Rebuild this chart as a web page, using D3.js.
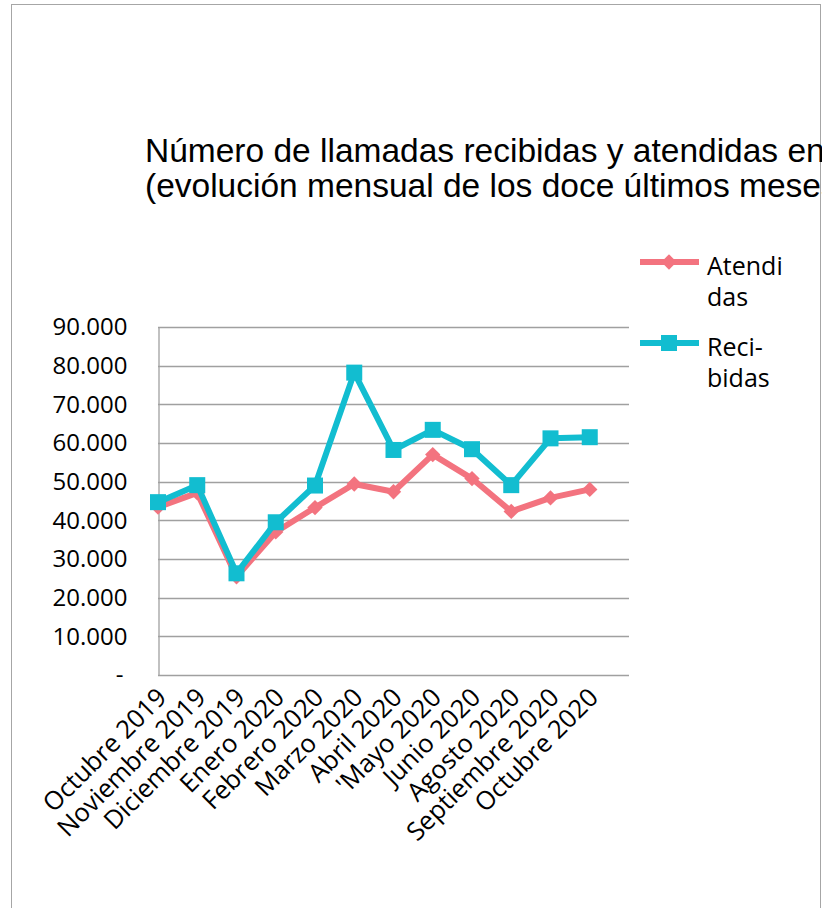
<!DOCTYPE html>
<html>
<head>
<meta charset="utf-8">
<script src="https://cdn.jsdelivr.net/npm/d3@7"></script>
<style>
  body { margin: 0; background: #fff; }
  svg { display: block; }
</style>
</head>
<body>
<div id="chart"></div>
<script>
// data
var months = ["Octubre 2019", "Noviembre 2019", "Diciembre 2019", "Enero 2020", "Febrero 2020",
  "Marzo 2020", "Abril 2020", "'Mayo 2020", "Junio 2020", "Agosto 2020", "Septiembre 2020", "Octubre 2020"];
var atendidas = [43400, 47100, 25400, 37000, 43300, 49400, 47400, 57000, 50800, 42300, 45800, 48000];
var recibidas = [44700, 49100, 26300, 39500, 49000, 78200, 58200, 63400, 58400, 49100, 61200, 61500];
var yTicks = [0, 10000, 20000, 30000, 40000, 50000, 60000, 70000, 80000, 90000];
var titleLines = ["Número de llamadas recibidas y atendidas en", "(evolución mensual de los doce últimos meses)"];

var W = 822, H = 908;
var pink = "#f3737f", teal = "#12bdd0";
var labelFont = "'Open Sans', 'Noto Sans', sans-serif";

var svg = d3.select("#chart").append("svg")
  .attr("width", W).attr("height", H);

// outer frame
svg.append("rect")
  .attr("x", 11.5).attr("y", 4.5)
  .attr("width", 809).attr("height", 920)
  .attr("fill", "none").attr("stroke", "#a6a6a6").attr("stroke-width", 1);

// title (runs past the right edge, as in the original)
svg.append("text")
  .attr("font-family", "'Liberation Sans', Arial, sans-serif")
  .attr("font-size", 33.5)
  .attr("fill", "#000")
  .selectAll("tspan").data(titleLines).enter().append("tspan")
    .attr("x", 145)
    .attr("y", function(d, i) { return 162 + i * 35; })
    .text(function(d) { return d; });

// plot area
var plotLeft = 158, plotRight = 629, plotTop = 327, plotBottom = 675;
var step = (plotRight - plotLeft) / 12;

var x = d3.scalePoint()
  .domain(months)
  .range([plotLeft, plotLeft + step * 11]);

var y = d3.scaleLinear()
  .domain([0, 90000])
  .range([plotBottom, plotTop]);

// gridlines
svg.append("g")
  .selectAll("line").data(yTicks).enter().append("line")
    .attr("x1", plotLeft).attr("x2", plotRight)
    .attr("y1", function(d) { return Math.round(y(d)) + 0.5; })
    .attr("y2", function(d) { return Math.round(y(d)) + 0.5; })
    .attr("stroke", "#a0a0a0").attr("stroke-width", 1.3);

// y axis
var yAxis = svg.append("g")
  .attr("transform", "translate(" + (plotLeft + 0.5) + ",0)")
  .call(d3.axisLeft(y).tickValues(yTicks).tickSize(0).tickPadding(31)
    .tickFormat(function(d) { return d === 0 ? "-" : d3.format(",")(d).replace(/,/g, "."); }));
yAxis.select(".domain").attr("stroke", "#a0a0a0").attr("stroke-width", 1.3);
yAxis.selectAll("text")
  .attr("font-family", labelFont).attr("font-size", 24).attr("fill", "#000");
yAxis.selectAll(".tick").filter(function(d) { return d === 0; }).select("text")
  .attr("dx", -4);

// x labels, rotated
svg.append("g")
  .selectAll("text").data(months).enter().append("text")
    .attr("transform", function(d) { return "translate(" + (x(d) + 10) + "," + (plotBottom + 24) + ") rotate(-45)"; })
    .attr("text-anchor", "end")
    .attr("font-family", labelFont).attr("font-size", 25.5)
    .attr("fill", "#000")
    .text(function(d) { return d; });

// lines
var line = d3.line()
  .x(function(d, i) { return x(months[i]); })
  .y(function(d) { return y(d); });

svg.append("path").datum(atendidas)
  .attr("d", line).attr("fill", "none")
  .attr("stroke", pink).attr("stroke-width", 6).attr("stroke-linejoin", "round");

var diamond = d3.symbol().type(d3.symbolDiamond2).size(150);
svg.append("g").selectAll("path").data(atendidas).enter().append("path")
  .attr("d", diamond)
  .attr("transform", function(d, i) { return "translate(" + x(months[i]) + "," + y(d) + ")"; })
  .attr("fill", pink);

svg.append("path").datum(recibidas)
  .attr("d", line).attr("fill", "none")
  .attr("stroke", teal).attr("stroke-width", 6).attr("stroke-linejoin", "round");

svg.append("g").selectAll("rect").data(recibidas).enter().append("rect")
  .attr("x", function(d, i) { return x(months[i]) - 8; })
  .attr("y", function(d) { return y(d) - 8; })
  .attr("width", 16).attr("height", 16)
  .attr("fill", teal);

// legend
var legend = [
  {name: ["Atendi", "das"], color: pink, y: 262, marker: "diamond"},
  {name: ["Reci-", "bidas"], color: teal, y: 343, marker: "square"}
];
var lg = svg.append("g").selectAll("g").data(legend).enter().append("g");
lg.append("line")
  .attr("x1", 640).attr("x2", 699)
  .attr("y1", function(d) { return d.y; }).attr("y2", function(d) { return d.y; })
  .attr("stroke", function(d) { return d.color; }).attr("stroke-width", 6);
lg.append("path")
  .attr("d", function(d) {
    return d.marker === "diamond" ? diamond() : d3.symbol().type(d3.symbolSquare).size(256)();
  })
  .attr("transform", function(d) { return "translate(669," + d.y + ")"; })
  .attr("fill", function(d) { return d.color; });
lg.append("text")
  .attr("font-family", labelFont).attr("font-size", 25).attr("fill", "#000")
  .each(function(d) {
    d3.select(this).selectAll("tspan").data(d.name).enter().append("tspan")
      .attr("x", 707)
      .attr("y", function(t, i) { return d.y + 13 + i * 31; })
      .text(function(t) { return t; });
  });
</script>
</body>
</html>
